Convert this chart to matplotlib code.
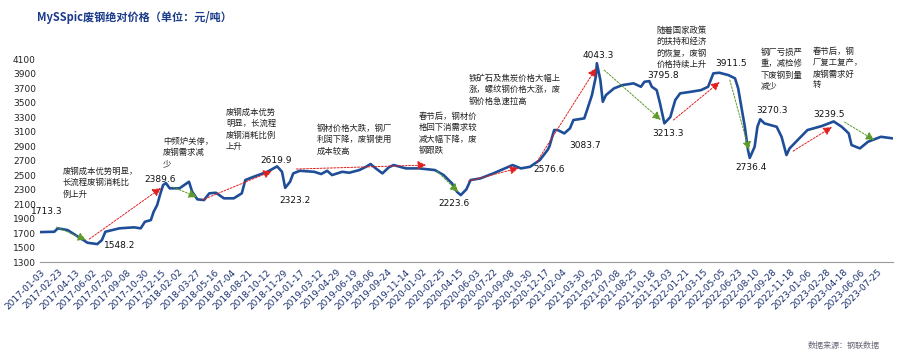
import matplotlib
matplotlib.use("Agg")
import matplotlib.pyplot as plt
import numpy as np
import pandas as pd

plt.rcParams['font.family'] = ['Noto Sans CJK SC', 'DejaVu Sans']

# price series (yuan/ton)
dates = [
    "2017-01-03", "2017-02-13", "2017-02-23", "2017-03-23", "2017-04-25",
    "2017-05-19", "2017-06-16", "2017-06-29", "2017-07-09", "2017-08-18",
    "2017-09-29", "2017-10-18", "2017-10-30", "2017-11-16", "2017-11-24",
    "2017-12-04", "2017-12-12", "2017-12-21", "2017-12-29", "2018-01-09",
    "2018-02-06", "2018-03-05", "2018-03-14", "2018-03-29", "2018-04-17",
    "2018-05-02", "2018-05-21", "2018-06-13", "2018-07-11", "2018-08-03",
    "2018-08-13", "2018-09-06", "2018-10-15", "2018-11-12", "2018-11-26",
    "2018-12-05", "2018-12-19", "2018-12-28", "2019-01-16", "2019-02-26",
    "2019-03-18", "2019-04-04", "2019-04-18", "2019-05-17", "2019-06-06",
    "2019-07-05", "2019-07-24", "2019-08-06", "2019-08-21", "2019-09-09",
    "2019-09-27", "2019-10-11", "2019-11-15", "2019-12-23", "2020-02-06",
    "2020-03-02", "2020-03-26", "2020-04-09", "2020-04-20", "2020-05-06",
    "2020-05-18", "2020-06-15", "2020-07-22", "2020-09-15", "2020-10-09",
    "2020-11-04", "2020-12-02", "2020-12-24", "2020-12-29", "2021-01-12",
    "2021-01-22", "2021-02-10", "2021-02-26", "2021-03-08", "2021-04-08",
    "2021-04-16", "2021-04-30", "2021-05-11", "2021-05-14", "2021-05-24",
    "2021-05-31", "2021-06-09", "2021-07-02", "2021-07-26", "2021-08-27",
    "2021-09-17", "2021-09-27", "2021-10-11", "2021-10-18", "2021-11-01",
    "2021-11-10", "2021-11-23", "2021-12-10", "2021-12-24", "2022-01-07",
    "2022-02-07", "2022-03-08", "2022-03-28", "2022-04-12", "2022-04-29",
    "2022-05-25", "2022-06-13", "2022-06-22", "2022-07-01", "2022-07-11",
    "2022-07-20", "2022-07-25", "2022-08-08", "2022-08-16", "2022-08-24",
    "2022-09-05", "2022-10-10", "2022-10-24", "2022-11-07", "2022-11-16",
    "2022-12-09", "2023-01-06", "2023-02-16", "2023-03-22", "2023-04-14",
    "2023-05-04", "2023-05-12", "2023-06-05", "2023-06-28", "2023-08-04",
    "2023-09-07",
]
prices = [
    1713.3, 1718, 1765, 1741, 1641,
    1566, 1548.2, 1603, 1718, 1765,
    1779, 1765, 1856, 1879, 1994,
    2086, 2224, 2362, 2389.6, 2317,
    2317, 2408, 2270, 2165, 2155,
    2248, 2256, 2179, 2179, 2248,
    2431, 2477, 2545, 2619.9, 2545,
    2323.2, 2408, 2523, 2559, 2545,
    2514, 2559, 2500, 2545, 2532,
    2569, 2614, 2652, 2592, 2523,
    2606, 2638, 2592, 2592, 2569,
    2500, 2385, 2270, 2223.6, 2303,
    2431, 2454, 2523, 2638, 2592,
    2614, 2707, 2845, 2890, 3121,
    3121, 3075, 3144, 3259, 3282,
    3397, 3603, 3856, 4043.3, 3810,
    3511, 3603, 3696, 3741, 3765,
    3718, 3787, 3795.8, 3718, 3672,
    3500, 3213.3, 3300, 3534, 3627,
    3649, 3672, 3718, 3903, 3911.5,
    3879, 3834, 3696, 3443, 3166,
    2845, 2736.4, 2890, 3166, 3270.3,
    3213, 3166, 3028, 2776, 2868,
    2983, 3121, 3176, 3239.5, 3166,
    3075, 2914, 2868, 2959, 3028,
    3006,
]

tick_dates = [
    "2017-01-03", "2017-02-23", "2017-04-13", "2017-06-02", "2017-07-20",
    "2017-09-08", "2017-10-30", "2017-12-15", "2018-02-02", "2018-03-27",
    "2018-05-16", "2018-07-04", "2018-08-21", "2018-10-12", "2018-11-29",
    "2019-01-17", "2019-03-12", "2019-04-29", "2019-06-19", "2019-08-06",
    "2019-09-24", "2019-11-14", "2020-01-02", "2020-02-25", "2020-04-15",
    "2020-06-03", "2020-07-22", "2020-09-08", "2020-10-30", "2020-12-17",
    "2021-02-04", "2021-03-30", "2021-05-20", "2021-07-08", "2021-08-25",
    "2021-10-18", "2021-12-03", "2022-01-21", "2022-03-15", "2022-05-05",
    "2022-06-23", "2022-08-10", "2022-09-28", "2022-11-18", "2023-01-06",
    "2023-02-28", "2023-04-18", "2023-06-06", "2023-07-25",
]
y_ticks = list(range(1300, 4101, 200))

# value labels: text, date, value
value_labels = [
    ("1713.3", "2017-01-23", 2003),
    ("1548.2", "2017-08-19", 1534),
    ("2389.6", "2017-12-12", 2445),
    ("2619.9", "2018-11-08", 2707),
    ("2323.2", "2019-01-01", 2155),
    ("2223.6", "2020-04-01", 2114),
    ("2576.6", "2020-12-29", 2583),
    ("3083.7", "2021-04-10", 2914),
    ("4043.3", "2021-05-18", 4155),
    ("3795.8", "2021-11-18", 3879),
    ("3213.3", "2021-12-04", 3079),
    ("3911.5", "2022-06-01", 4045),
    ("2736.4", "2022-07-29", 2610),
    ("3270.3", "2022-09-26", 3397),
    ("3239.5", "2023-03-08", 3341),
]

# comment boxes: text, date, value (top-left corner)
notes = [
    ("废钢成本优势明显，\n长流程废钢消耗比\n例上升", "2017-03-08", 2610),
    ("中频炉关停，\n废钢需求减\n少", "2017-12-21", 3024),
    ("废钢成本优势\n明显，长流程\n废钢消耗比例\n上升", "2018-06-19", 3424),
    ("钢材价格大跌，钢厂\n利润下降，废钢使用\n成本较高", "2019-03-04", 3203),
    ("春节后，钢材价\n格回下消需求较\n减大幅下降，废\n钢跟跌", "2019-12-23", 3369),
    ("铁矿石及焦炭价格大幅上\n涨，螺纹钢价格大涨，废\n钢价格急速拉高", "2020-05-12", 3893),
    ("随着国家政策\n的扶持和经济\n的恢复，废钢\n价格持续上升", "2021-10-31", 4555),
    ("钢厂亏损严\n重，减检修\n下废钢到量\n减少", "2022-08-26", 4252),
    ("春节后，钢\n厂复工复产，\n废钢需求好\n转", "2023-01-21", 4266),
]

# trend arrows: start date, start value, end date, end value
up_arrows = [
    ("2017-05-24", 1617, "2017-12-15", 2321),
    ("2018-04-11", 2155, "2018-10-28", 2555),
    ("2019-01-06", 2583, "2020-01-12", 2638),
    ("2020-05-12", 2417, "2020-10-02", 2597),
    ("2020-11-23", 2679, "2021-05-12", 3976),
    ("2021-12-19", 3259, "2022-04-30", 3783),
    ("2022-11-26", 2831, "2023-03-17", 3162),
]
down_arrows = [
    ("2017-02-19", 1783, "2017-05-15", 1603),
    ("2018-01-18", 2334, "2018-03-28", 2197),
    ("2020-02-12", 2555, "2020-04-13", 2266),
    ("2021-06-04", 3948, "2021-11-13", 3259),
    ("2022-05-29", 3810, "2022-07-23", 2845),
    ("2023-04-22", 3231, "2023-07-16", 2983),
]

LINE = '#1f4e99'
NAVY = '#1a2f6e'


def draw_arrows(ax, arrows, color):
    for d0, v0, d1, v1 in arrows:
        ax.annotate('', xy=(pd.Timestamp(d1), v1),
                    xytext=(pd.Timestamp(d0), v0),
                    arrowprops=dict(arrowstyle='-|>,head_length=0.5,head_width=0.25',
                                    color=color, lw=0.7,
                                    linestyle=(0, (2, 1.5)),
                                    shrinkA=0, shrinkB=0))


fig = plt.figure(figsize=(9, 3.58), dpi=100)
ax = fig.add_axes([0.0444, 0.268, 0.9476, 0.567])

x = pd.to_datetime(dates)
ax.plot(x, prices, color=LINE, linewidth=1.9, solid_joinstyle='round')

draw_arrows(ax, up_arrows, '#e02020')
draw_arrows(ax, down_arrows, '#5e9a2c')

for txt, d, v in value_labels:
    ax.text(pd.Timestamp(d), v, txt, fontsize=6.5, family='DejaVu Sans',
            ha='center', va='center', color='#111111')

for txt, d, v in notes:
    ax.text(pd.Timestamp(d), v, txt, fontsize=6, ha='left', va='top',
            color='#222222', linespacing=1.32)

ax.set_ylim(1300, 4100)
ax.set_yticks(y_ticks)
ax.set_xlim(x[0], x[-1])
ax.set_xticks(pd.to_datetime(tick_dates))
ax.set_xticklabels(tick_dates, rotation=45, ha='right', rotation_mode='anchor',
                   fontsize=6.5, color=NAVY, family='DejaVu Sans')
ax.tick_params(axis='x', length=0, pad=4)
ax.tick_params(axis='y', length=0, pad=3, labelsize=6.5, labelcolor='#222222')
for lab in ax.get_yticklabels():
    lab.set_family('DejaVu Sans')

for s in ['top', 'right', 'left']:
    ax.spines[s].set_visible(False)
ax.spines['bottom'].set_color('#999999')
ax.spines['bottom'].set_linewidth(0.8)

fig.text(37 / 900, 1 - 18 / 358, 'MySSpic废钢绝对价格（单位：元/吨）', fontsize=8,
         fontweight='bold', color='#1a3a8a', ha='left', va='center')
fig.text(880 / 900, 1 - 345 / 358, '数据来源：钢联数据', fontsize=5.8,
         color='#666677', ha='right', va='center')

fig.savefig('out.png', dpi=100)
